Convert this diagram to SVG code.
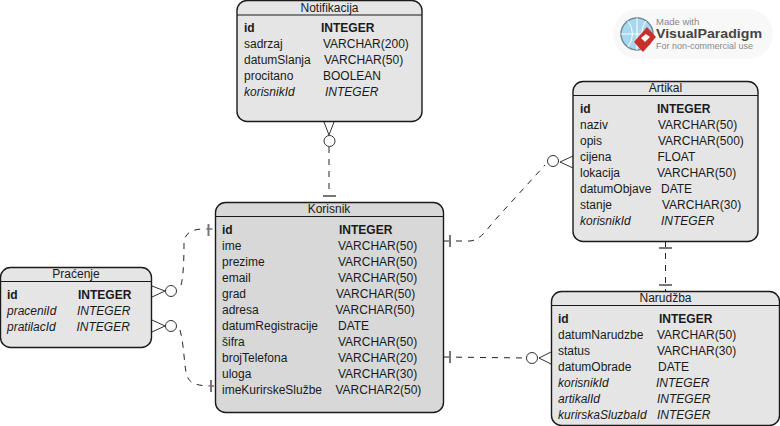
<svg xmlns="http://www.w3.org/2000/svg" width="780" height="426" viewBox="0 0 780 426">
<style>
text{font-family:"Liberation Sans",Arial,sans-serif;font-size:12px;fill:#1a1a1a}
.box{fill:#e5e5e5;stroke:#1a1a1a;stroke-width:1.4}
.dark{fill:#d8d8d8}
.sep{stroke:#1a1a1a;stroke-width:1.2;fill:none}
.t{text-anchor:middle}
.b{font-weight:bold}
.i{font-style:italic}
.c{fill:none;stroke:#222;stroke-width:1;stroke-dasharray:6 6}
.m{fill:none;stroke:#333;stroke-width:1}
.bar{fill:none;stroke:#777;stroke-width:2}
.o{fill:#fff;stroke:#333;stroke-width:1}
</style>
<rect width="780" height="426" fill="#fff"/>
<g id="connectors">
<path class="c" d="M329 147V196"/>
<path class="m" d="M324 122L329 135L334 122M329 135V136"/><circle class="o" cx="329.500" cy="141" r="5.500"/><path class="bar" d="M323 196H336"/>
<path class="c" d="M181 285C184 275 184 250 184 242C185 233 192 229 204 229H215"/>
<path class="m" d="M152 286L165 291L152 297"/><circle class="o" cx="171" cy="291" r="5.500"/><path class="bar" d="M208.500 224V236"/>
<path class="c" d="M180 330C184 345 184 362 186 372C188 383 194 386 214 386"/>
<path class="m" d="M152 320L165 326L152 332"/><circle class="o" cx="171" cy="326" r="5.500"/><path class="bar" d="M211 380V392"/>
<path class="c" d="M444 241H470C480 240 485 232 495 220L545 165"/>
<path class="m" d="M573 156L560 162L573 168"/><circle class="o" cx="553" cy="161" r="5.500"/><path class="bar" d="M450 235V247"/>
<path class="c" d="M665.500 241V291"/>
<path class="bar" d="M659 248H672M659 285H672"/>
<path class="c" d="M444 357L526 358"/>
<path class="m" d="M551 352L539 358L551 364"/><circle class="o" cx="532" cy="358" r="5.500"/><path class="bar" d="M450 351V363"/>
</g>
<g id="notifikacija">
<rect class="box" x="237" y="0.500" width="185" height="121" rx="10"/><path class="sep" d="M237 15H422"/>
<text class="t" x="329.500" y="12">Notifikacija</text>
<text class="b" x="244" y="32">id</text><text class="b" x="321" y="32">INTEGER</text>
<text x="244" y="48">sadrzaj</text><text x="323" y="48">VARCHAR(200)</text>
<text x="244" y="64">datumSlanja</text><text x="324" y="64">VARCHAR(50)</text>
<text x="244" y="80">procitano</text><text x="323" y="80">BOOLEAN</text>
<text class="i" x="244" y="96">korisnikId</text><text class="i" x="325" y="96">INTEGER</text>
</g>
<g id="korisnik">
<rect class="box dark" x="215.500" y="202.500" width="228" height="210" rx="10"/><path class="sep" d="M215.500 216.500H443.500"/>
<text class="t" x="329" y="213">Korisnik</text>
<text class="b" x="222" y="234">id</text><text class="b" x="339" y="234">INTEGER</text>
<text x="222" y="250">ime</text><text x="338" y="250">VARCHAR(50)</text>
<text x="222" y="266">prezime</text><text x="338" y="266">VARCHAR(50)</text>
<text x="222" y="282">email</text><text x="338" y="282">VARCHAR(50)</text>
<text x="222" y="298">grad</text><text x="336" y="298">VARCHAR(50)</text>
<text x="222" y="314">adresa</text><text x="335.500" y="314">VARCHAR(50)</text>
<text x="222" y="330">datumRegistracije</text><text x="338" y="330">DATE</text>
<text x="222" y="346">šifra</text><text x="338" y="346">VARCHAR(50)</text>
<text x="222" y="362">brojTelefona</text><text x="338" y="362">VARCHAR(20)</text>
<text x="222" y="378">uloga</text><text x="338" y="378">VARCHAR(30)</text>
<text x="222" y="394">imeKurirskeSlužbe</text><text x="335.500" y="394">VARCHAR2(50)</text>
</g>
<g id="pracenje">
<rect class="box" x="0.500" y="267.500" width="151" height="80" rx="10"/><path class="sep" d="M0.500 281.500H151.500"/>
<text class="t" x="76" y="278">Praćenje</text>
<text class="b" x="7" y="299">id</text><text class="b" x="78" y="299">INTEGER</text>
<text class="i" x="7" y="315">praceniId</text><text class="i" x="77" y="315">INTEGER</text>
<text class="i" x="7" y="331">pratilacId</text><text class="i" x="76.500" y="331">INTEGER</text>
</g>
<g id="artikal">
<rect class="box" x="573" y="81.500" width="185" height="160" rx="10"/><path class="sep" d="M573 95.500H758"/>
<text class="t" x="665.500" y="92">Artikal</text>
<text class="b" x="580" y="113">id</text><text class="b" x="657" y="113">INTEGER</text>
<text x="580" y="129">naziv</text><text x="658" y="129">VARCHAR(50)</text>
<text x="580" y="145">opis</text><text x="658" y="145">VARCHAR(500)</text>
<text x="580" y="161">cijena</text><text x="657.500" y="161">FLOAT</text>
<text x="580" y="177">lokacija</text><text x="657" y="177">VARCHAR(50)</text>
<text x="580" y="193">datumObjave</text><text x="661" y="193">DATE</text>
<text x="580" y="209">stanje</text><text x="662" y="209">VARCHAR(30)</text>
<text class="i" x="580" y="225">korisnikId</text><text class="i" x="661" y="225">INTEGER</text>
</g>
<g id="narudzba">
<rect class="box" x="551.500" y="291.500" width="228" height="134" rx="10"/><path class="sep" d="M551.500 305.500H779.500"/>
<text class="t" x="665.500" y="302">Narudžba</text>
<text class="b" x="558" y="323">id</text><text class="b" x="659" y="323">INTEGER</text>
<text x="558" y="339">datumNarudzbe</text><text x="657" y="339">VARCHAR(50)</text>
<text x="558" y="355">status</text><text x="657" y="355">VARCHAR(30)</text>
<text x="558" y="371">datumObrade</text><text x="658" y="371">DATE</text>
<text class="i" x="558" y="387">korisnikId</text><text class="i" x="656" y="387">INTEGER</text>
<text class="i" x="558" y="403">artikalId</text><text class="i" x="657" y="403">INTEGER</text>
<text class="i" x="558" y="419">kurirskaSluzbaId</text><text class="i" x="657" y="419">INTEGER</text>
</g>
<g id="logo">
<rect x="613" y="9" width="160" height="50" rx="25" fill="#f8f8f8"/>
<circle cx="637" cy="34" r="16" fill="#a8d8ef" stroke="#6f8c99" stroke-width="1.500"/>
<path d="M621 34H653M637 18V50M628 21Q637 34 628 47M646 21Q637 34 646 47" fill="none" stroke="#fff" stroke-width="1"/>
<path d="M647 27L656 37L643 52L634 42Z" fill="#c9302c"/>
<path d="M646 34L650 37L645 42L641 38Z" fill="#fff"/>
<text x="656" y="25" style="font-size:9.500px;fill:#888">Made with</text>
<text x="656" y="38" textLength="106" lengthAdjust="spacingAndGlyphs" style="font-size:13px;font-weight:bold;fill:#444">VisualParadigm</text>
<text x="656" y="49" style="font-size:9px;fill:#888">For non-commercial use</text>
</g>
</svg>
